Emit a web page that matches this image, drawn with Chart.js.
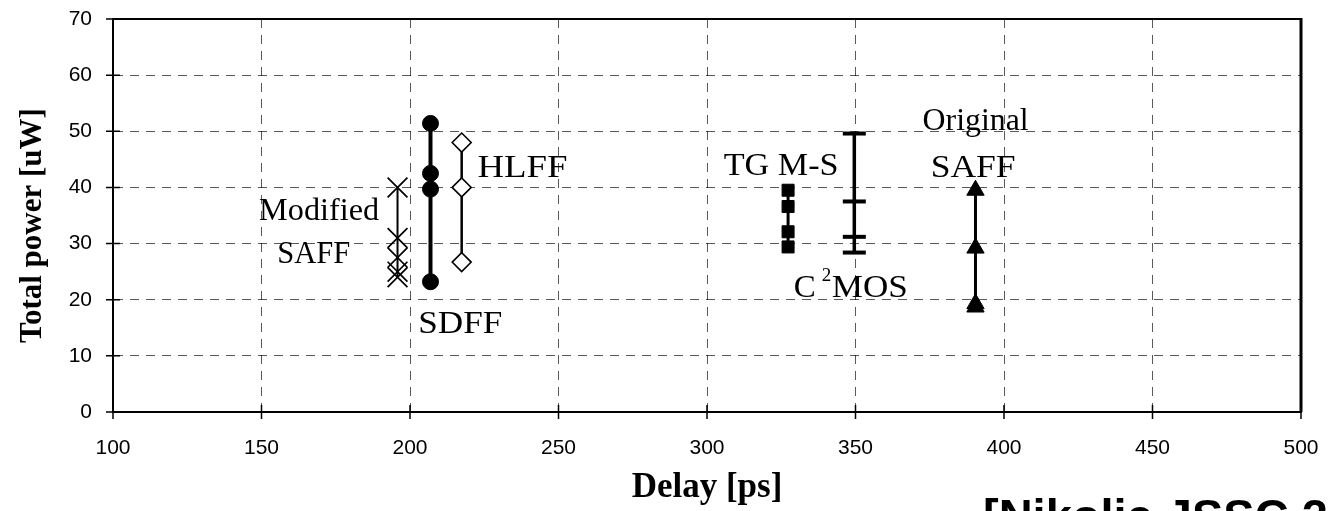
<!DOCTYPE html>
<html><head><meta charset="utf-8">
<script src="https://cdn.jsdelivr.net/npm/chart.js@4.4.0/dist/chart.umd.min.js"></script>
<style>html,body{margin:0;padding:0;background:#fff;} #wrap{position:relative;width:1329px;height:511px;}</style>
</head><body><div id="wrap"><canvas id="c" width="1329" height="511"></canvas></div>
<script>
// ---- data ----
const delayTicks = [100, 150, 200, 250, 300, 350, 400, 450, 500];
const powerTicks = [0, 10, 20, 30, 40, 50, 60, 70];
const seriesNames = ['Modified SAFF', 'SDFF', 'HLFF', 'TG M-S', 'C2MOS', 'Original SAFF'];
const seriesDelay = [195.8, 206.9, 217.4, 327.3, 349.6, 390.4];
const modifiedSaffPower = [40, 31, 27.5, 25, 24];
const sdffPower = [51.4, 42.5, 39.7, 23.2];
const hlffPower = [48, 40, 26.7];
const tgmsPower = [39.5, 36.6, 32.1, 29.4];
const c2mosPower = [49.6, 37.5, 31.2, 28.4];
const originalSaffPower = [39.5, 29.2, 19.3, 18.7];

// ---- annotation text (placed in data units) ----
const annotations = [
  {text: 'Modified', x: 149.2, y: 34.2, w: 120},
  {text: 'SAFF', x: 155.3, y: 26.5, w: 73},
  {text: 'SDFF', x: 202.8, y: 14.1, w: 84},
  {text: 'HLFF', x: 222.7, y: 41.9, w: 90},
  {text: 'TG M-S', x: 305.6, y: 42.2, w: 115},
  {text: 'C', x: 329.2, y: 20.5, w: 22},
  {text: 'MOS', x: 342.0, y: 20.5, w: 76},
  {text: 'Original', x: 372.6, y: 50.2, w: 106},
  {text: 'SAFF', x: 375.3, y: 41.9, w: 85}
];
const superscripts = [{text: '2', x: 338.6, y: 23.3}];

function pts(d, arr) { return arr.map(v => ({x: d, y: v})); }
const powers = [modifiedSaffPower, sdffPower, hlffPower, tgmsPower, c2mosPower, originalSaffPower];
const styles = [
  {pointStyle: 'crossRot', pointRadius: 14, pointBorderWidth: 1.7, pointBackgroundColor: '#000', borderWidth: 2},
  {pointStyle: 'circle', pointRadius: 8, pointBorderWidth: 1, pointBackgroundColor: '#000', borderWidth: 4},
  {pointStyle: 'rectRot', pointRadius: 9.5, pointBorderWidth: 1.6, pointBackgroundColor: '#fff', borderWidth: 2.5},
  {pointStyle: 'rect', pointRadius: 8.5, pointBorderWidth: 1, pointBackgroundColor: '#000', borderWidth: 3},
  {pointStyle: 'line', pointRadius: 11.5, pointBorderWidth: 4, pointBackgroundColor: '#000', borderWidth: 3.5},
  {pointStyle: 'triangle', pointRadius: 10, pointBorderWidth: 1, pointBackgroundColor: '#000', borderWidth: 3}
];
const datasets = seriesNames.map((n, i) => Object.assign({
  label: n,
  data: pts(seriesDelay[i], powers[i]),
  showLine: true,
  borderColor: '#000',
  pointBorderColor: '#000',
  pointHoverRadius: styles[i].pointRadius
}, styles[i]));

const frame = {
  id: 'frame',
  afterDraw(chart) {
    const {ctx, chartArea: a, scales: {x, y}} = chart;
    ctx.save();
    ctx.strokeStyle = '#000';
    ctx.setLineDash([]);
    ctx.lineWidth = 2;
    ctx.beginPath(); ctx.moveTo(a.left, a.top); ctx.lineTo(a.right, a.top); ctx.stroke();
    ctx.lineWidth = 3;
    ctx.beginPath(); ctx.moveTo(a.right, a.top - 1); ctx.lineTo(a.right, a.bottom); ctx.stroke();
    ctx.lineWidth = 1.5;
    ctx.beginPath();
    powerTicks.forEach(v => { const py = y.getPixelForValue(v); ctx.moveTo(a.left - 7, py); ctx.lineTo(a.left + 7, py); });
    delayTicks.forEach(v => { const px = x.getPixelForValue(v); ctx.moveTo(px, a.bottom - 7); ctx.lineTo(px, a.bottom + 7); });
    ctx.stroke();

    ctx.fillStyle = '#000';
    ctx.textAlign = 'left';
    ctx.textBaseline = 'alphabetic';
    ctx.font = '32px "Liberation Serif", "Times New Roman", serif';
    annotations.forEach(l => {
      const px = x.getPixelForValue(l.x), py = y.getPixelForValue(l.y);
      const m = ctx.measureText(l.text).width;
      ctx.save(); ctx.translate(px, py); ctx.scale(l.w / m, 1); ctx.fillText(l.text, 0, 0); ctx.restore();
    });
    ctx.font = '19px "Liberation Serif", "Times New Roman", serif';
    superscripts.forEach(l => {
      ctx.fillText(l.text, x.getPixelForValue(l.x), y.getPixelForValue(l.y));
    });

    // y-axis title
    ctx.save();
    ctx.font = 'bold 31px "Liberation Serif", "Times New Roman", serif';
    ctx.textAlign = 'center';
    ctx.translate(41, (a.top + a.bottom) / 2 + 10);
    ctx.rotate(-Math.PI / 2);
    ctx.fillText('Total power [uW]', 0, 0);
    ctx.restore();

    // citation
    ctx.font = 'bold 47px "Liberation Sans", Arial, sans-serif';
    ctx.textAlign = 'left';
    ctx.fillText('[Nikolic JSSC 2000]', 983, 532);
    ctx.restore();
  }
};

const tickFont = {family: '"Liberation Sans", Arial, sans-serif', size: 21};
new Chart(document.getElementById('c'), {
  type: 'scatter',
  data: {datasets},
  plugins: [frame],
  options: {
    responsive: false,
    animation: false,
    events: [],
    layout: {padding: {top: 19, right: 28, left: 0, bottom: 0}},
    plugins: {legend: {display: false}, tooltip: {enabled: false}},
    scales: {
      x: {
        type: 'linear', min: 100, max: 500,
        afterBuildTicks: s => { s.ticks = delayTicks.map(v => ({value: v})); },
        afterFit: s => { s.height = 99; },
        ticks: {font: tickFont, color: '#000', padding: 2, maxRotation: 0},
        grid: {color: 'rgba(0,0,0,0.65)', lineWidth: 1, drawTicks: true, tickLength: 22, tickColor: 'rgba(0,0,0,0)'},
        border: {display: true, color: '#000', width: 2, dash: [9, 7]},
        title: {display: true, text: 'Delay [ps]', color: '#000', padding: {top: 0, bottom: 2},
                font: {family: '"Liberation Serif", "Times New Roman", serif', size: 35, weight: 'bold'}}
      },
      y: {
        type: 'linear', min: 0, max: 70,
        afterBuildTicks: s => { s.ticks = powerTicks.map(v => ({value: v})); },
        afterFit: s => { s.width = 113; },
        ticks: {font: tickFont, color: '#000', padding: 2},
        grid: {color: 'rgba(0,0,0,0.65)', lineWidth: 1, drawTicks: true, tickLength: 19, tickColor: 'rgba(0,0,0,0)'},
        border: {display: true, color: '#000', width: 2, dash: [9, 7]}
      }
    }
  }
});
</script>
</body></html>
